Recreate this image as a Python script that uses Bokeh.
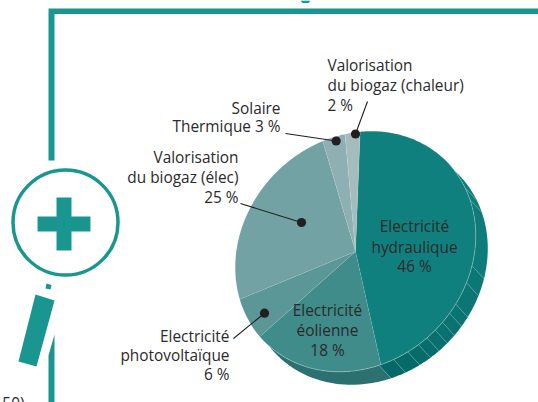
import math
from bokeh.plotting import figure
from bokeh.models import Range1d
from bokeh.embed import file_html
from bokeh.resources import INLINE
from bokeh.core.properties import value

# Data
categories = ["Electricité hydraulique", "Electricité éolienne", "Electricité photovoltaïque",
              "Valorisation du biogaz (élec)", "Solaire Thermique", "Valorisation du biogaz (chaleur)"]
shares = [46, 18, 6, 25, 3, 2]
colors = ["#10807e", "#3f8c8b", "#5b9797", "#72a2a3", "#8eb0b2", "#a5bcbd"]

TEAL = "#1a9691"
INK = "#2b2a2b"
FONT = "Open Sans"
FS = "15.4px"
TEXT_SHIFT = -7.5

# Tilted pie geometry (screen px)
CX, CY, A, B = 355.0, 251.0, 128.0, 112.0
DX, DY = 12.0, 13.0
START_T = -46.6
K = math.sqrt(0.5)

def pt(t, ox=0.0, oy=0.0):
    r = math.radians(t)
    ca, sb = A * math.cos(r), B * math.sin(r)
    return CX + ox + K * (ca + sb), CY + oy + K * (sb - ca)

def t_of(screen_deg):
    s = math.radians(screen_deg)
    dx, dy = math.sin(s), -math.cos(s)
    u, v = K * (dx - dy), K * (dx + dy)
    t = math.degrees(math.atan2(v / B, u / A))
    return t if t >= START_T else t + 360

def arc(t1, t2, ox=0.0, oy=0.0):
    n = max(2, int(abs(t2 - t1)) + 1)
    pts = [pt(t1 + (t2 - t1) * i / n, ox, oy) for i in range(n + 1)]
    return [q[0] for q in pts], [q[1] for q in pts]

p = figure(width=538, height=402, x_range=Range1d(0, 538), y_range=Range1d(402, 0),
           toolbar_location=None, output_backend="svg", min_border=0,
           margin=(0, 0, 0, 0), outline_line_color=None)
p.axis.visible = False
p.grid.visible = False
p.background_fill_color = "white"
p.border_fill_color = "white"

# Frame
p.patch([48, 538, 538, 54, 54, 48], [8, 8, 13.5, 13.5, 160, 160], fill_color=TEAL, line_color=None)
p.patch([48, 54, 54, 48], [355, 334, 402, 402], fill_color=TEAL, line_color=None)
p.patch([300, 310, 308, 302], [0, 0, 2.5, 2.5], fill_color=TEAL, line_color=None)

# Magnifier-like "i" with plus
p.circle(x=[65], y=[222], radius=52.5, fill_color="white", line_color=TEAL, line_width=3.5)
p.patch([37, 56, 56, 71, 71, 90, 90, 71, 71, 56, 56, 37],
        [216, 216, 197, 197, 216, 216, 231, 231, 250, 250, 231, 231], fill_color=TEAL, line_color=None)
p.patch([35, 54, 36, 18], [294, 300, 366, 361], fill_color=TEAL, line_color=None)
p.patch([46, 51, 50, 45], [283, 284.5, 289, 288], fill_color=TEAL, line_color=None)

# Extruded side of the pie
rib_angles = [42, 59.7, 65.5, 97, 105.7, 117.7, 123.3, 129.2, 134.6, 140.4, 145.9, 152.5, 160.6, 168.3]
band_colors = ["#0f7d7b", "#0f7d7b", "#0e7c7a", "#0c7876", "#0b7674", "#0a7472", "#0a7371", "#097170",
               "#086f6e", "#076d6c", "#076b6a", "#066a69", "#056868"]
ts = [t_of(a) for a in rib_angles]
for i, col in enumerate(band_colors):
    x1, y1 = arc(ts[i], ts[i + 1])
    x2, y2 = arc(ts[i + 1], ts[i], DX, DY)
    p.patch(x1 + x2, y1 + y2, fill_color=col, line_color=None)
x1, y1 = arc(ts[-1], t_of(235))
x2, y2 = arc(t_of(235), ts[-1], DX, DY)
p.patch(x1 + x2, y1 + y2, fill_color="#2c716f", line_color=None)
for t in ts[1:]:
    a0, a1 = pt(t), pt(t, DX, DY)
    p.line([a0[0], a1[0]], [a0[1], a1[1]], line_color="#5fa8a5", line_width=0.5)

# Pie faces
t = START_T
total = sum(shares)
for share, col in zip(shares, colors):
    t2 = t + share / total * 360
    xs, ys = arc(t, t2)
    p.patch([CX] + xs, [CY] + ys, fill_color=col, line_color="white", line_alpha=0.15, line_width=0.5)
    t = t2

# Pale rim on the lit edge
rx, ry = arc(t_of(48), t_of(226))
p.line(rx, ry, line_color="#a8d0ce", line_width=0.6, line_alpha=0.65)

# Leaders
leaders_x = [[367, 355], [285, 335.7], [240, 301], [233, 264]]
leaders_y = [[101, 133.5], [133, 140.5], [203, 222], [338, 312.7]]
for lx, ly in zip(leaders_x, leaders_y):
    p.line(lx, ly, line_color="#231f20", line_width=1.1)
    p.circle(x=[lx[1]], y=[ly[1]], radius=4.6, fill_color="#231f20", line_color=None)

# Labels
def label(lines, x, ys, align):
    for s, y in zip(lines, ys):
        p.text(x=[x], y=[y + TEXT_SHIFT], text=[s], text_font=value(FONT), text_font_size=FS, text_color=INK,
               text_align=align, text_baseline="alphabetic")

label(["Valorisation", "du biogaz (chaleur)", "2 %"], 327, [72, 92, 112], "left")
label(["Solaire", "Thermique 3 %"], 280, [115, 133], "right")
label(["Valorisation", "du biogaz (élec)", "25 %"], 238, [164, 184, 204], "right")
label(["Electricité", "photovoltaïque", "6 %"], 229, [343, 362, 381], "right")
label(["Electricité", "hydraulique", "46 %"], 414, [233, 254, 273], "center")
label(["Electricité", "éolienne", "18 %"], 327, [317, 337, 357], "center")
label(["50)"], 24, [410], "right")

open("out.html", "w").write(file_html(p, INLINE))
